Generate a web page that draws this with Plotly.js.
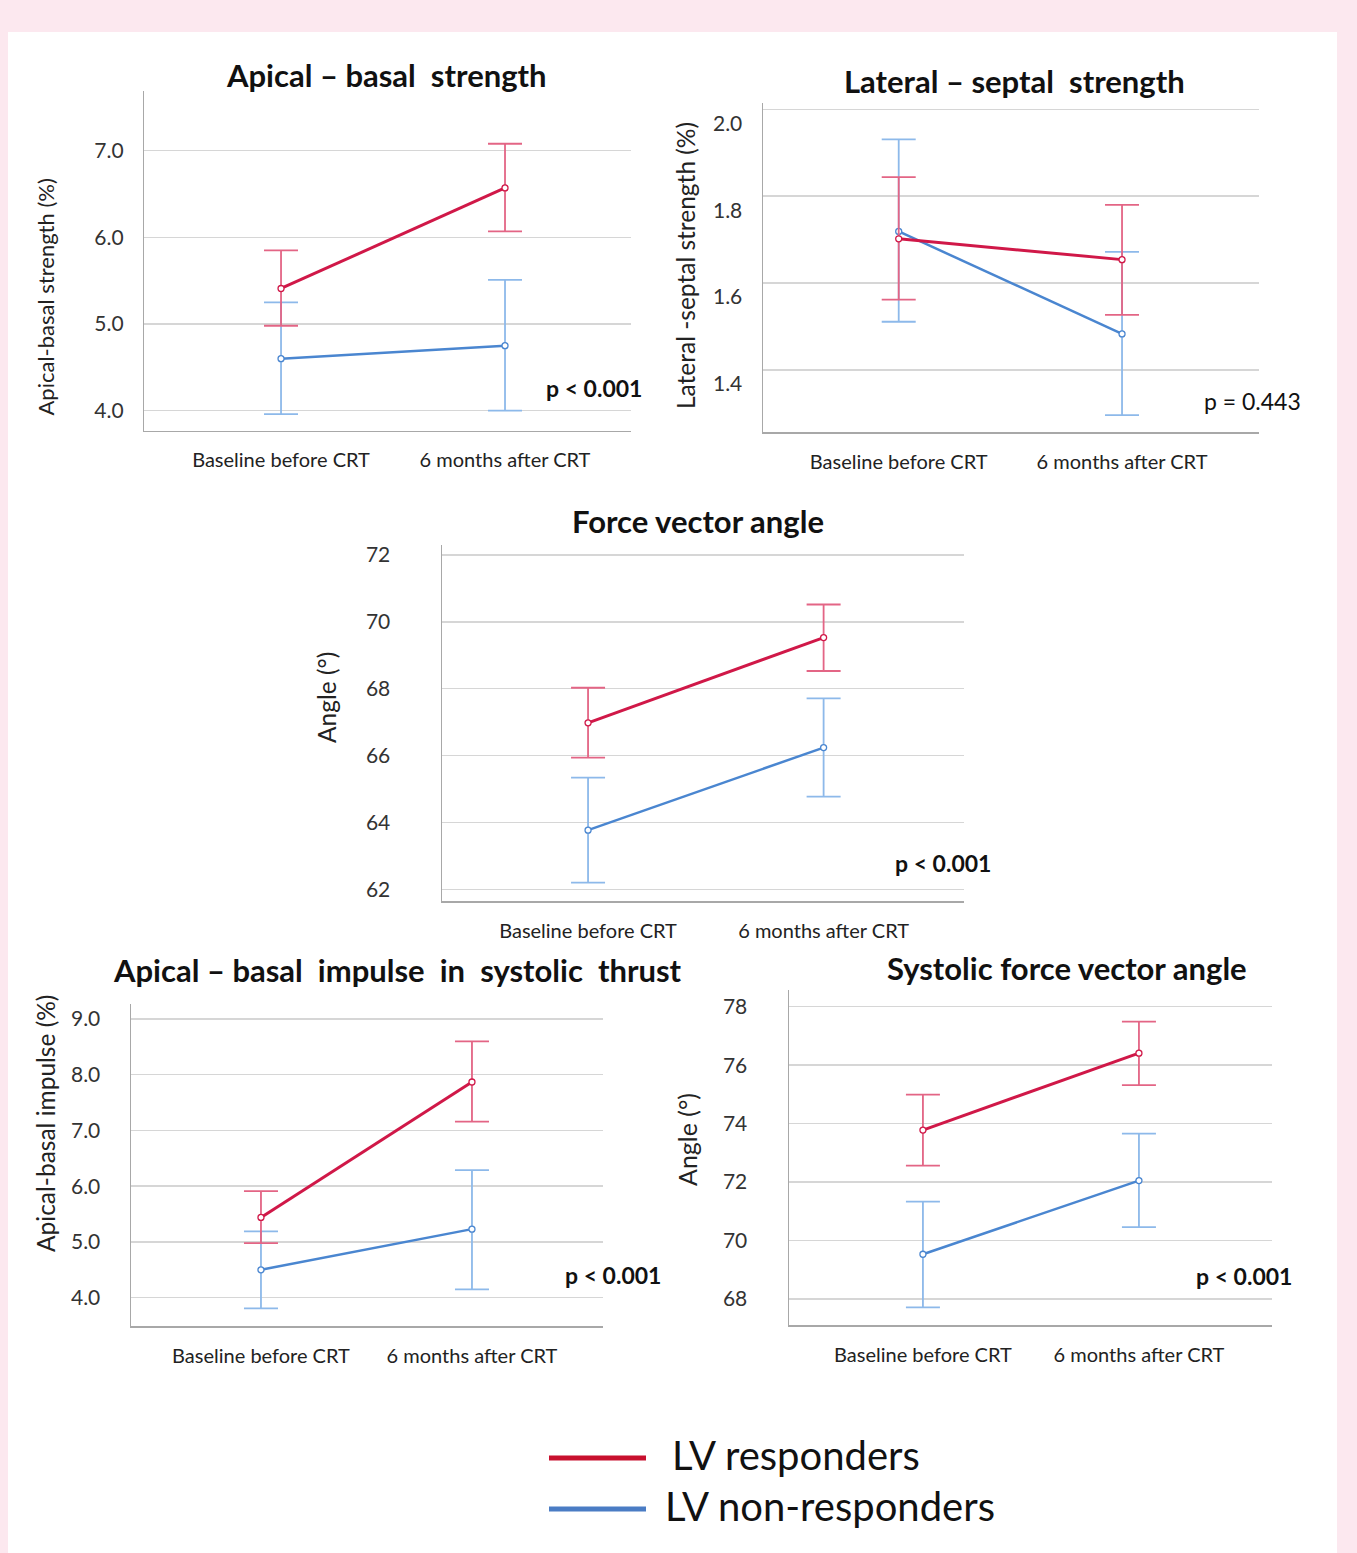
<!DOCTYPE html>
<html>
<head>
<meta charset="utf-8">
<script src="https://cdn.plot.ly/plotly-3.0.1.min.js"></script>
<style>
  html, body { margin: 0; padding: 0; background: #fce8ef; }
  #chart { width: 1357px; height: 1553px; }
</style>
</head>
<body>
<div id="chart"></div>
<script>
// ---------------- DATA ----------------
const categories = ['Baseline before CRT', '6 months after CRT'];
const seriesNames = ['LV responders', 'LV non-responders'];

// Panel 1: Apical–basal strength (%)
const abStrengthResp      = [5.41, 6.57];
const abStrengthRespLo    = [4.98, 6.07];
const abStrengthRespHi    = [5.85, 7.08];
const abStrengthNonResp   = [4.60, 4.75];
const abStrengthNonRespLo = [3.96, 4.00];
const abStrengthNonRespHi = [5.25, 5.51];
const abStrengthTicks     = [4.0, 5.0, 6.0, 7.0];

// Panel 2: Lateral–septal strength (%)
const lsStrengthResp      = [1.702, 1.654];
const lsStrengthRespLo    = [1.562, 1.527];
const lsStrengthRespHi    = [1.844, 1.780];
const lsStrengthNonResp   = [1.719, 1.483];
const lsStrengthNonRespLo = [1.511, 1.296];
const lsStrengthNonRespHi = [1.931, 1.672];
const lsStrengthTicks     = [1.4, 1.6, 1.8, 2.0];

// Panel 3: Force vector angle (°)
const fvAngleResp      = [66.98, 69.53];
const fvAngleRespLo    = [65.94, 68.53];
const fvAngleRespHi    = [68.03, 70.52];
const fvAngleNonResp   = [63.77, 66.24];
const fvAngleNonRespLo = [62.20, 64.77];
const fvAngleNonRespHi = [65.34, 67.71];
const fvAngleTicks     = [62, 64, 66, 68, 70, 72];

// Panel 4: Apical–basal impulse in systolic thrust (%)
const abImpulseResp      = [5.44, 7.87];
const abImpulseRespLo    = [4.98, 7.16];
const abImpulseRespHi    = [5.91, 8.60];
const abImpulseNonResp   = [4.50, 5.23];
const abImpulseNonRespLo = [3.81, 4.15];
const abImpulseNonRespHi = [5.19, 6.29];
const abImpulseTicks     = [4.0, 5.0, 6.0, 7.0, 8.0, 9.0];

// Panel 5: Systolic force vector angle (°)
const sfvAngleResp      = [73.78, 76.41];
const sfvAngleRespLo    = [72.56, 75.32];
const sfvAngleRespHi    = [74.99, 77.49];
const sfvAngleNonResp   = [69.53, 72.05];
const sfvAngleNonRespLo = [67.71, 70.46];
const sfvAngleNonRespHi = [71.33, 73.66];
const sfvAngleTicks     = [68, 70, 72, 74, 76, 78];

const panelTitles = [
  'Apical – basal  strength',
  'Lateral – septal  strength',
  'Force vector angle',
  'Apical – basal  impulse  in  systolic  thrust',
  'Systolic force vector angle'
];
const yTitles = [
  'Apical-basal strength (%)',
  'Lateral -septal strength (%)',
  'Angle (°)',
  'Apical-basal impulse (%)',
  'Angle (°)'
];
const pTexts = ['p < 0.001', 'p = 0.443', 'p < 0.001', 'p < 0.001', 'p < 0.001'];

// ---------------- STYLE / LAYOUT ----------------
const W = 1357, H = 1553;
const FONT = 'Lato, "Open Sans", sans-serif';
const RED = '#d01848', RED_ERR = '#e36585';
const BLUE = '#4a86d0', BLUE_ERR = '#8db9ea';

const panels = [
  { resp: [abStrengthResp, abStrengthRespLo, abStrengthRespHi],
    non:  [abStrengthNonResp, abStrengthNonRespLo, abStrengthNonRespHi],
    ticks: abStrengthTicks, fmt: '.1f',
    box: [144.4, 631, 90.7, 430.7], yr: [3.769, 7.692], xr: [-0.61, 1.5625],
    std: 15, shift: 0, title: [386, 75], ytitle: [45.5, 297, 22], p: [594, 388, true] },
  { resp: [lsStrengthResp, lsStrengthRespLo, lsStrengthRespHi],
    non:  [lsStrengthNonResp, lsStrengthNonRespLo, lsStrengthNonRespHi],
    ticks: lsStrengthTicks, fmt: '.1f',
    box: [763, 1258.7, 103.3, 432], yr: [1.2573, 2.0138], xr: [-0.6077, 1.612],
    std: 15, shift: 14, title: [1015, 81], ytitle: [686, 266, 24.5], p: [1252, 401, false] },
  { resp: [fvAngleResp, fvAngleRespLo, fvAngleRespHi],
    non:  [fvAngleNonResp, fvAngleNonRespLo, fvAngleNonRespHi],
    ticks: fvAngleTicks, fmt: 'd',
    box: [442, 964, 545, 901], yr: [61.65, 72.3], xr: [-0.62, 1.596],
    std: 46, shift: 0, title: [698, 521], ytitle: [326, 698, 24.5], p: [943, 863, true] },
  { resp: [abImpulseResp, abImpulseRespLo, abImpulseRespHi],
    non:  [abImpulseNonResp, abImpulseNonRespLo, abImpulseNonRespHi],
    ticks: abImpulseTicks, fmt: '.1f',
    box: [131, 603, 1004, 1326], yr: [3.492, 9.269], xr: [-0.616, 1.621],
    std: 25, shift: 0, title: [397, 970], ytitle: [45, 1124, 24.5], p: [613, 1275, true] },
  { resp: [sfvAngleResp, sfvAngleRespLo, sfvAngleRespHi],
    non:  [sfvAngleNonResp, sfvAngleNonRespLo, sfvAngleNonRespHi],
    ticks: sfvAngleTicks, fmt: 'd',
    box: [789, 1272, 990, 1325], yr: [67.11, 78.571], xr: [-0.62, 1.616],
    std: 36, shift: 0, title: [1067, 968], ytitle: [687, 1140, 25], p: [1244, 1276, true] }
];

const xIdx = categories.map((c, i) => i);
const traces = [];
const layout = {
  width: W, height: H,
  margin: { l: 0, r: 0, t: 0, b: 0 },
  paper_bgcolor: '#fce8ef',
  plot_bgcolor: 'rgba(0,0,0,0)',
  showlegend: false,
  font: { family: FONT, color: '#222' },
  annotations: [],
  shapes: [
    { type: 'rect', xref: 'paper', yref: 'paper', layer: 'below',
      x0: 8 / W, x1: 1337 / W, y0: 0, y1: 1 - 32 / H,
      fillcolor: '#ffffff', line: { width: 0 } }
  ]
};

function errTrace(series, color, errColor, width, ax) {
  const [mean, lo, hi] = series;
  return {
    type: 'scatter', mode: 'lines+markers',
    x: xIdx, y: mean,
    xaxis: 'x' + ax, yaxis: 'y' + ax,
    line: { color: color, width: width },
    marker: { symbol: 'circle', size: 6, color: '#ffffff', line: { color: color, width: 1.3 } },
    error_y: {
      type: 'data', symmetric: false,
      array: hi.map((v, i) => v - mean[i]),
      arrayminus: mean.map((v, i) => v - lo[i]),
      color: errColor, thickness: 1.8, width: 17
    },
    hoverinfo: 'skip'
  };
}

const px = x => x / W;
const py = y => 1 - y / H;

panels.forEach((p, k) => {
  const n = k + 1;
  const ax = n === 1 ? '' : String(n);
  traces.push(errTrace(p.non, BLUE, BLUE_ERR, 2.5, ax));
  traces.push(errTrace(p.resp, RED, RED_ERR, 3, ax));
  const [x0, x1, y0, y1] = p.box;
  layout['xaxis' + ax] = {
    domain: [px(x0), px(x1)], range: p.xr, anchor: 'y' + ax,
    tickvals: xIdx, ticktext: categories,
    showgrid: false, zeroline: false, showline: true,
    linecolor: '#a8a8a8', linewidth: 1.5, ticks: '',
    ticklabelstandoff: 11,
    tickfont: { family: FONT, size: 20, color: '#222' }, fixedrange: true
  };
  layout['yaxis' + ax] = {
    domain: [py(y1), py(y0)], range: p.yr, anchor: 'x' + ax,
    tickvals: p.ticks, tickformat: p.fmt,
    showgrid: true, gridcolor: '#d6d6d6', gridwidth: 1.5,
    zeroline: false, showline: true, linecolor: '#a8a8a8', linewidth: 1.5,
    ticks: '', ticklabelstandoff: p.std, ticklabelshift: p.shift,
    tickfont: { family: FONT, size: 21, color: '#333' }, fixedrange: true
  };
  layout.annotations.push({
    xref: 'paper', yref: 'paper', x: px(p.title[0]), y: py(p.title[1]),
    xanchor: 'center', yanchor: 'middle', showarrow: false,
    text: '<b>' + panelTitles[k] + '</b>',
    font: { family: FONT, size: 31, color: '#111' }
  });
  layout.annotations.push({
    xref: 'paper', yref: 'paper', x: px(p.ytitle[0]), y: py(p.ytitle[1]),
    xanchor: 'center', yanchor: 'middle', showarrow: false, textangle: -90,
    text: yTitles[k],
    font: { family: FONT, size: p.ytitle[2], color: '#222' }
  });
  layout.annotations.push({
    xref: 'paper', yref: 'paper', x: px(p.p[0]), y: py(p.p[1]),
    xanchor: 'center', yanchor: 'middle', showarrow: false,
    text: p.p[2] ? '<b>' + pTexts[k] + '</b>' : pTexts[k],
    font: { family: FONT, size: 23, color: '#111' }
  });
});

// Legend (drawn as shapes + text)
const legendItems = [
  { name: seriesNames[0], color: '#c8102e', y: 1458, tx: 670 },
  { name: seriesNames[1], color: '#4a7cc4', y: 1509, tx: 663 }
];
legendItems.forEach(it => {
  layout.shapes.push({
    type: 'line', xref: 'paper', yref: 'paper',
    x0: px(549), x1: px(646), y0: py(it.y), y1: py(it.y),
    line: { color: it.color, width: 5 }
  });
  layout.annotations.push({
    xref: 'paper', yref: 'paper', x: px(it.tx), y: py(it.y - 3),
    xanchor: 'left', yanchor: 'middle', showarrow: false,
    text: it.name, font: { family: FONT, size: 40, color: '#111' }
  });
});

Plotly.newPlot('chart', traces, layout, { displayModeBar: false, staticPlot: true });
</script>
</body>
</html>
